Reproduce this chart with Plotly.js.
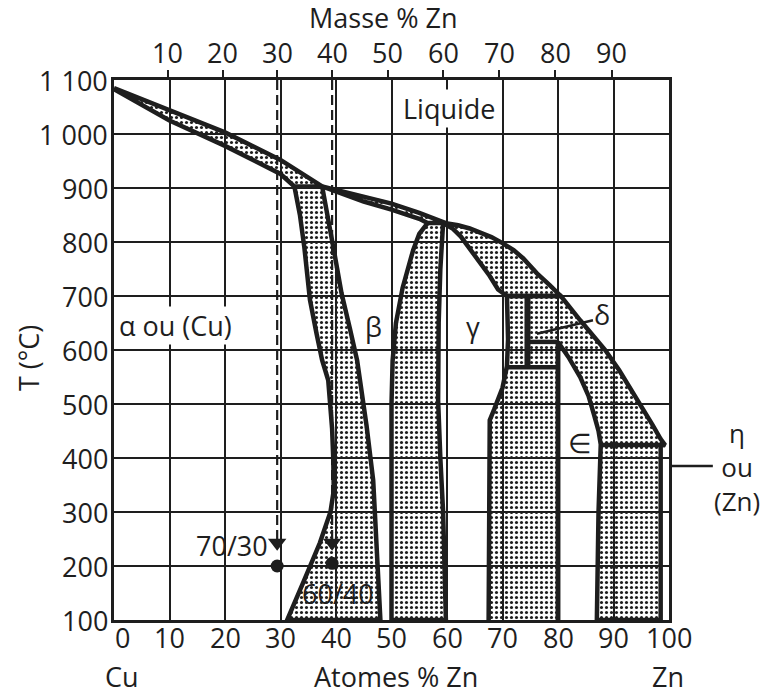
<!DOCTYPE html>
<html>
<head>
<meta charset="utf-8">
<script src="https://cdn.plot.ly/plotly-3.0.1.min.js"></script>
<style>html,body{margin:0;padding:0;background:#fff;}#chart{width:765px;height:695px;}</style>
</head>
<body>
<div id="chart"></div>
<script>
// ---------- data (atomic % Zn, temperature °C) ----------
const tempTicks = [100,200,300,400,500,600,700,800,900,1000,1100];
const tempTickText = ["100","200","300","400","500","600","700","800","900","1 000","1 100"];
const atomTicks = [0,10,20,30,40,50,60,70,80,90,100];
const atomTickText = ["0","10","20","30","40","50","60","70","80","90","100"];
const massTickText = ["10","20","30","40","50","60","70","80","90"];
const massTickPos = [9.7,19.6,29.4,39.3,49.3,59.3,69.4,79.5,89.7];

const liqAlphaX = [0,10,20,30,37.5];
const liqAlphaT = [1085,1045,1003,952,903];
const alphaSolX = [0,10,20,30,32.5];
const alphaSolT = [1083,1025,978,926,903];
const liqBetaX = [37.5,45,50,55,59.8];
const liqBetaT = [903,884,871,854,835];
const betaSolX = [37.5,45,50,55,56.5];
const betaSolT = [903,875,860,843,835];
const liqGammaX = [59.8,62,64.1,66,68,70,72,73.7,76.2,78.5,80.5];
const liqGammaT = [835,831,825,818,809,798,785,770,742,720,700];
const gammaSolX = [59.3,61,62.5,64.1,66,67.7,69.2,70.8];
const gammaSolT = [835,825,810,787,762,737,712,700];
const liqEpsX = [80.5,84,86.5,88.5,91,93,95,97,98.5,99.3];
const liqEpsT = [700,655,625,600,563,530,497,462,435,424];
const alphaBoundX = [32.5,33.5,34.3,35.3,36.5,37.5,38.6,39.3,39.5,39.6,39,37.1,34.2,31.2];
const alphaBoundT = [903,850,790,693,630,581,544,454,400,340,300,243,172,100];
const betaLeftX = [37.5,38.5,39.7,41,42.5,43.8,44.5,45.5,46.7,47.2,47.6,48];
const betaLeftT = [903,850,780,705,640,581,530,460,359,270,174,100];
const betaRightX = [56.5,55,53.9,52,50.8,50.2,50,50];
const betaRightT = [835,815,785,715,650,580,500,100];
const gammaLeftX = [59.3,58.8,58.5,58.4,58.8,59.3,59.8];
const gammaLeftT = [835,750,650,507,400,300,100];
const gammaRightX = [70.8,71,70.8,70,68.5,67.7,67.6,67.5];
const gammaRightT = [700,620,570,530,490,470,400,100];
const epsLeftX = [80,80];
const epsLeftT = [615,100];
const epsSolX = [80,82,84,85.5,86.5,87.3,87.7];
const epsSolT = [615,585,550,515,480,450,425];
const epsRightX = [87.7,87.3,87];
const epsRightT = [425,300,100];
const etaX = [98.5,98.5];
const etaT = [424,100];
const deltaX = [74.5,74.5];
const deltaT = [700,565];
const eutectoidX = [70.8,80];
const eutectoidT = [568,568];
const peritecticEpsX = [74.5,80];
const peritecticEpsT = [615,615];
const peritecticEtaX = [87.7,99.3];
const peritecticEtaT = [424,424];
const brassX = [29.4,39.3];           // 70/30 and 60/40 brass (30 and 40 mass % Zn)
const brassTopT = [1100,1100];
const brassMarkT = [243,243];
const brassDotT = [200,205];

// ---------- helpers ----------
const rev = a => a.slice().reverse();
const ink = '#1e1e1e';
const stipple = {shape:'.', size:5, solidity:0.3, fgcolor:ink, bgcolor:'rgba(0,0,0,0)'};
function region(xs, ts){
  return {x:xs, y:ts, mode:'lines', fill:'toself', fillpattern:stipple,
          line:{color:ink, width:4.5}, hoverinfo:'skip', showlegend:false};
}
function line(xs, ts, w){
  return {x:xs, y:ts, mode:'lines', line:{color:ink, width:w||4.5}, hoverinfo:'skip', showlegend:false};
}

const traces = [];
traces.push(region(liqAlphaX.concat(rev(alphaSolX)), liqAlphaT.concat(rev(alphaSolT))));      // α + L
traces.push(region(liqBetaX.concat(rev(betaSolX)), liqBetaT.concat(rev(betaSolT))));          // β + L
traces.push(region(liqGammaX.concat(rev(gammaSolX)), liqGammaT.concat(rev(gammaSolT))));      // L + γ
traces.push(region(alphaBoundX.concat(rev(betaLeftX)), alphaBoundT.concat(rev(betaLeftT))));  // α + β
traces.push(region(betaRightX.concat(rev(gammaLeftX)), betaRightT.concat(rev(gammaLeftT))));  // β + γ
traces.push(region(                                                                           // γ+δ, δ+L, L+ε, γ+ε, ε+η
  rev(gammaRightX).concat(liqEpsX, etaX, rev(epsRightX), rev(epsSolX), [epsLeftX[1]]),
  rev(gammaRightT).concat(liqEpsT, etaT, rev(epsRightT), rev(epsSolT), [epsLeftT[1]])
));
traces.push(line(deltaX, deltaT, 6));
traces.push(line(eutectoidX, eutectoidT));
traces.push(line(peritecticEpsX, peritecticEpsT));
traces.push(line(peritecticEtaX, peritecticEtaT));
traces.push(line(epsLeftX, epsLeftT));
for (let i=0;i<brassX.length;i++){
  traces.push({x:[brassX[i],brassX[i]], y:[brassTopT[i],brassMarkT[i]], mode:'lines',
    line:{color:ink, width:2.2, dash:'10px,5px'}, hoverinfo:'skip', showlegend:false});
}
traces.push({x:brassX, y:brassMarkT, mode:'markers', marker:{symbol:'triangle-down', size:16, color:ink},
  hoverinfo:'skip', showlegend:false});
traces.push({x:brassX, y:brassDotT, mode:'markers', marker:{symbol:'circle', size:13, color:ink},
  hoverinfo:'skip', showlegend:false});
traces.push({x:[0,100], y:[100,100], xaxis:'x2', mode:'markers', marker:{opacity:0}, hoverinfo:'skip', showlegend:false});

const F = 'Open Sans, Noto Sans, sans-serif';
const fnt = {family:F, size:27, color:ink};
function note(x, y, text, xref, yref, extra){
  return Object.assign({x:x, y:y, xref:xref, yref:yref, text:text, showarrow:false, font:fnt,
    xanchor:'center', yanchor:'middle'}, extra||{});
}
const annotations = [
  note(60.3, 1048, 'Liquide', 'x', 'y', {bgcolor:'#fff', borderpad:0}),
  note(0.7, 646, 'α ou (Cu)', 'x', 'y', {xanchor:'left', bgcolor:'#fff', borderpad:0}),
  note(46.7, 643, 'β', 'x', 'y'),
  note(64.7, 643, 'γ', 'x', 'y'),
  note(87.9, 665, 'δ', 'x', 'y'),
  note(84, 428, '∈', 'x', 'y'),
  note(29.4, 238, '70/30', 'x', 'y', {xanchor:'right', xshift:-7}),
  note(40.4, 150, '60/40', 'x', 'y'),
  note(1.4, -0.104, 'Cu', 'x', 'paper'),
  note(50.8, -0.104, 'Atomes % Zn', 'x', 'paper'),
  note(99.8, -0.104, 'Zn', 'x', 'paper'),
  note(48.5, 1.115, 'Masse % Zn', 'x', 'paper'),
  note(-0.155, 0.485, 'T (°C)', 'paper', 'paper', {textangle:-90}),
  note(1.122, 0.284, 'η<br>ou<br>(Zn)', 'paper', 'paper', {font:{family:F, size:26, color:ink}, align:'center'})
];
// y tick labels next to the frame
for (let i=0;i<tempTicks.length;i++){
  annotations.push(note(-0.008, tempTicks[i], tempTickText[i], 'paper', 'y', {xanchor:'right'}));
}
// atomic-% tick labels under the frame
for (let i=0;i<atomTicks.length;i++){
  annotations.push(note(atomTicks[i], -0.033, atomTickText[i], 'x', 'paper', i===0 ? {xshift:8} : {}));
}
// mass-% tick labels above the top ticks
for (let i=0;i<massTickPos.length;i++){
  annotations.push(note(massTickPos[i], 1.05, massTickText[i], 'x', 'paper'));
}
const shapes = [
  {type:'line', xref:'paper', yref:'paper', x0:1.0, x1:1.079, y0:0.285, y1:0.285, line:{color:ink, width:2.5}},
  {type:'line', xref:'x', yref:'y', x0:86.3, y0:655, x1:76.2, y1:630, line:{color:ink, width:2.5}}
];

const layout = {
  width:765, height:695,
  margin:{l:114, r:96, t:80, b:75},
  paper_bgcolor:'#fff', plot_bgcolor:'#fff',
  showlegend:false,
  font:{family:F, size:27, color:ink},
  xaxis:{range:[0,100], tickvals:atomTicks, showticklabels:false, ticks:'', showgrid:true, gridcolor:ink, gridwidth:2,
         showline:true, mirror:true, linecolor:ink, linewidth:3, zeroline:false},
  xaxis2:{overlaying:'x', side:'top', range:[0,100], tickvals:massTickPos, showticklabels:false,
          ticks:'outside', ticklen:9, tickwidth:2, tickcolor:ink, showgrid:false, showline:false, zeroline:false},
  yaxis:{range:[100,1100], tickvals:tempTicks, showticklabels:false, ticks:'', showgrid:true,
         gridcolor:ink, gridwidth:2, showline:true, mirror:true, linecolor:ink, linewidth:3, zeroline:false},
  annotations:annotations,
  shapes:shapes
};
Plotly.newPlot('chart', traces, layout, {staticPlot:true});
</script>
</body>
</html>
